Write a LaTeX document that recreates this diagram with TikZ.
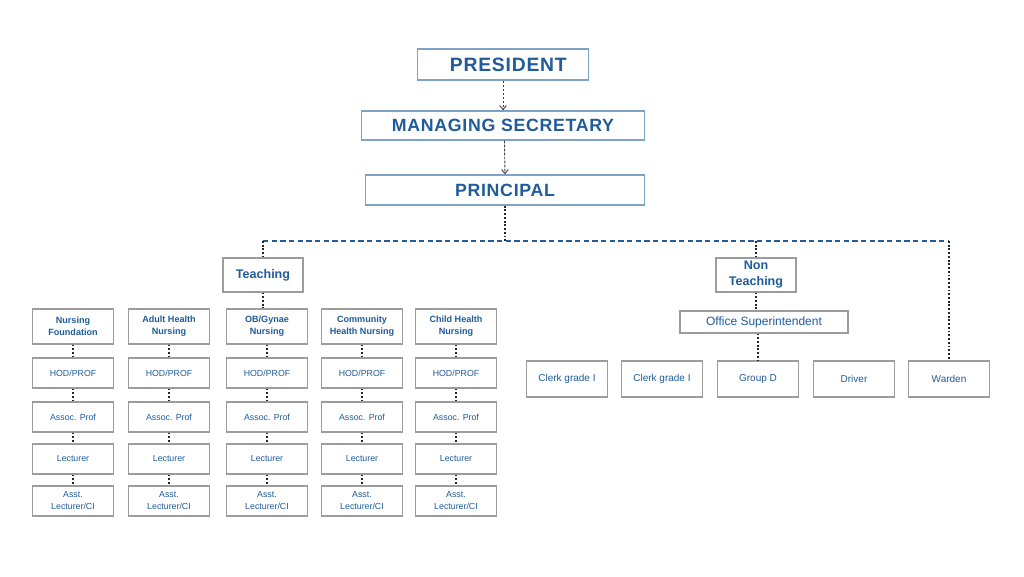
\documentclass[tikz,border=0pt]{standalone}
\usepackage{fontspec}
\setmainfont{Liberation Sans}
\newfontfamily\titlefont[LetterSpace=4]{Liberation Sans}
\usetikzlibrary{arrows.meta}
\definecolor{orgblue}{HTML}{1F5C99}
\definecolor{topframe}{HTML}{7FA3C7}
\definecolor{boxframe}{HTML}{9C9C9C}
\begin{document}
\begin{tikzpicture}[x=0.75pt,y=-0.75pt,
  topbox/.style={draw=topframe,line width=1.1pt,text=orgblue,inner sep=0pt,
   font=\titlefont\fontsize{13.3}{16}\selectfont\bfseries},
  headbox/.style={draw=boxframe,line width=0.8pt,text=orgblue,inner sep=0pt,align=center,
   minimum width=60pt,minimum height=25.5pt,font=\fontsize{9.4}{12}\selectfont\bfseries},
  deptbox/.style={draw=boxframe,line width=0.8pt,text=orgblue,inner sep=0pt,align=center,
   minimum width=60.75pt,minimum height=26.25pt,font=\fontsize{6.8}{9}\selectfont\bfseries},
  rankbox/.style={draw=boxframe,line width=0.8pt,text=orgblue,inner sep=0pt,align=center,
   minimum width=60.75pt,minimum height=22.5pt,font=\fontsize{6.6}{9}\selectfont},
  staffbox/.style={draw=boxframe,line width=0.8pt,text=orgblue,inner sep=0pt,align=center,
   minimum width=60.75pt,minimum height=27pt,font=\fontsize{7.5}{9}\selectfont},
  link/.style={black!85,line width=1.3pt,dash pattern=on 1.4pt off 1.4pt},
  topline/.style={black!75,line width=0.7pt,dash pattern=on 2pt off 1pt,-{Straight Barb[length=3pt,width=5pt]}},
  busline/.style={orgblue,line width=1.5pt,dash pattern=on 4pt off 2.5pt}]
 \useasboundingbox (0,0) rectangle (1024,576);
 \fill [white] (0,0) rectangle (1024,576);
 % top of the chart
 \node [topbox,minimum width=128.25pt,minimum height=23.25pt,font=\titlefont\fontsize{14.5}{18}\selectfont\bfseries]
  (pres) at (503,64.5) {\hspace{8pt}PRESIDENT};
 \node [topbox,minimum width=212.25pt,minimum height=21.75pt] (msec) at (503,125.5) {MANAGING SECRETARY};
 \node [topbox,minimum width=209.25pt,minimum height=22.5pt] (princ) at (505,190) {PRINCIPAL};
 \draw [topline] (pres) -- (msec);
 \draw [topline] (msec.south) ++(1.5,0) -- (princ.north);
 \coordinate (bus) at (505,241);
 \draw [link] (princ) -- (bus);
 % teaching / non teaching
 \node [headbox] (teach) at (263,275) {Teaching};
 \node [headbox] (nonteach) at (756,275) {Non\\Teaching};
 \node [draw=boxframe,line width=0.8pt,text=orgblue,minimum width=126pt,minimum height=16.5pt,
  font=\fontsize{9}{11}\selectfont] (offsup) at (764,322) {Office Superintendent};
 \foreach \n/\x/\t in {clk1/567/{Clerk grade I},clk2/662/{Clerk grade I},grpd/758/{Group D},
  drv/854/Driver,ward/949/Warden}
  \node [staffbox] (\n) at (\x,379) {\t};
 \draw [busline] (teach.north |- bus) -- (ward.north |- bus);
 \draw [link] (teach.north |- bus) -- (teach.north);
 \draw [link] (nonteach.north |- bus) -- (nonteach.north);
 \draw [link] (ward.north |- bus) -- (ward.north);
 \draw [link] (nonteach) -- (nonteach.south |- offsup.north);
 \draw [link] (grpd.north |- offsup.south) -- (grpd);
 % teaching departments
 \foreach \n/\x/\t in {nf/73/{Nursing\\Foundation},ahn/169/{Adult Health\\Nursing},
  obg/267/{OB/Gynae\\Nursing},chn/362/{Community\\Health Nursing},chd/456/{Child Health\\Nursing}} {
  \node [deptbox] (\n0) at (\x,326.5) {\t};
  \foreach \r/\y/\s [remember=\r as \p (initially 0)] in
   {1/373/{HOD/PROF},2/417/{Assoc. Prof},3/459/Lecturer,4/501/{Asst.\\Lecturer/CI}} {
   \node [rankbox] (\n\r) at (\x,\y) {\s};
   \draw [link] (\n\p) -- (\n\r);
  }
 }
 \draw [link] (teach) -- (teach.south |- obg0.north);
\end{tikzpicture}
\end{document}
